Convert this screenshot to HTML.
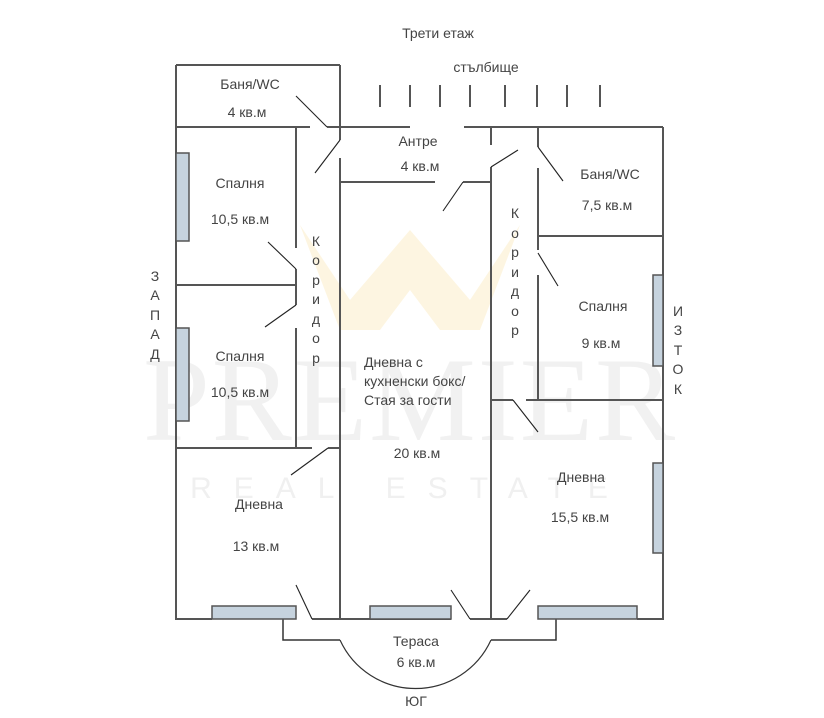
<!DOCTYPE html>
<html><head><meta charset="utf-8"><style>
html,body{margin:0;padding:0;background:#fff;}
svg{display:block;}
text{font-family:"Liberation Sans","DejaVu Sans",sans-serif;font-size:14px;fill:#444;}
</style></head><body>
<svg width="824" height="718" viewBox="0 0 824 718" xmlns="http://www.w3.org/2000/svg">
<!-- watermark -->
<polygon points="300,225 350,300 410,230 470,300 520,225 480,330 440,330 410,290 380,330 340,330" fill="#fcf3da" opacity="0.8"/>
<text x="410" y="440" text-anchor="middle" style="font-family:'Liberation Serif',serif;font-size:120px;fill:#f1f1f1;letter-spacing:2px">PREMIER</text>
<text x="410" y="498" text-anchor="middle" style="font-size:30px;fill:#f0f0f0;letter-spacing:22px">REAL ESTATE</text>

<g stroke="#555" stroke-width="2" fill="none">
<line x1="176" y1="65" x2="340" y2="65"/>
<line x1="176" y1="65" x2="176" y2="620"/>
<line x1="340" y1="65" x2="340" y2="140"/>
<line x1="176" y1="127" x2="310" y2="127"/>
<line x1="327" y1="127" x2="410" y2="127"/>
<line x1="464" y1="127" x2="663" y2="127"/>
<line x1="663" y1="127" x2="663" y2="620"/>
<line x1="176" y1="619" x2="212" y2="619"/>
<line x1="312" y1="619" x2="451" y2="619"/>
<line x1="470" y1="619" x2="507" y2="619"/>
<line x1="637" y1="619" x2="663" y2="619"/>
<line x1="340" y1="158" x2="340" y2="619"/>
<line x1="340" y1="182" x2="435" y2="182"/>
<line x1="463" y1="182" x2="491" y2="182"/>
<line x1="491" y1="127" x2="491" y2="145"/>
<line x1="491" y1="167" x2="491" y2="619"/>
<line x1="538" y1="127" x2="538" y2="147"/>
<line x1="538" y1="168" x2="538" y2="250"/>
<line x1="538" y1="236" x2="663" y2="236"/>
<line x1="538" y1="275" x2="538" y2="400"/>
<line x1="491" y1="400" x2="513" y2="400"/>
<line x1="526" y1="400" x2="663" y2="400"/>
<line x1="296" y1="127" x2="296" y2="248"/>
<line x1="296" y1="269" x2="296" y2="305"/>
<line x1="296" y1="328" x2="296" y2="448"/>
<line x1="176" y1="285" x2="296" y2="285"/>
<line x1="176" y1="448" x2="312" y2="448"/>
<line x1="328" y1="448" x2="340" y2="448"/>
<polyline points="283,619 283,640 340,640" stroke="#333" stroke-width="1.5"/>
<path d="M340 640 A83 83 0 0 0 491 640" stroke="#333" stroke-width="1.2"/>
<polyline points="491,640 556,640 556,619" stroke="#333" stroke-width="1.5"/>
<line x1="380" y1="85" x2="380" y2="107"/>
<line x1="410" y1="85" x2="410" y2="107"/>
<line x1="440" y1="85" x2="440" y2="107"/>
<line x1="470" y1="85" x2="470" y2="107"/>
<line x1="505" y1="85" x2="505" y2="107"/>
<line x1="537" y1="85" x2="537" y2="107"/>
<line x1="567" y1="85" x2="567" y2="107"/>
<line x1="600" y1="85" x2="600" y2="107"/>
</g>
<g stroke="#222" stroke-width="1.1" fill="none">
<line x1="296" y1="96" x2="327" y2="127"/>
<line x1="340" y1="140" x2="315" y2="173"/>
<line x1="463" y1="182" x2="443" y2="211"/>
<line x1="491" y1="167" x2="518" y2="150"/>
<line x1="538" y1="147" x2="563" y2="181"/>
<line x1="538" y1="253" x2="558" y2="286"/>
<line x1="513" y1="400" x2="538" y2="432"/>
<line x1="268" y1="242" x2="296" y2="269"/>
<line x1="296" y1="305" x2="265" y2="327"/>
<line x1="328" y1="448" x2="291" y2="475"/>
<line x1="296" y1="585" x2="312" y2="619"/>
<line x1="451" y1="590" x2="470" y2="619"/>
<line x1="507" y1="619" x2="530" y2="590"/>
</g>
<g fill="#c6d3de" stroke="#555" stroke-width="1.5">
<rect x="176" y="153" width="13" height="88"/>
<rect x="176" y="328" width="13" height="93"/>
<rect x="653" y="275" width="10" height="91"/>
<rect x="653" y="463" width="10" height="90"/>
<rect x="212" y="606" width="84" height="13"/>
<rect x="370" y="606" width="81" height="13"/>
<rect x="538" y="606" width="99" height="13"/>
</g>
<text x="438" y="38" text-anchor="middle">Трети етаж</text>
<text x="486" y="72" text-anchor="middle">стълбище</text>
<text x="250" y="89" text-anchor="middle">Баня/WC</text>
<text x="247" y="117" text-anchor="middle">4 кв.м</text>
<text x="418" y="146" text-anchor="middle">Антре</text>
<text x="420" y="171" text-anchor="middle">4 кв.м</text>
<text x="610" y="179" text-anchor="middle">Баня/WC</text>
<text x="607" y="210" text-anchor="middle">7,5 кв.м</text>
<text x="240" y="188" text-anchor="middle">Спалня</text>
<text x="240" y="224" text-anchor="middle">10,5 кв.м</text>
<text x="240" y="361" text-anchor="middle">Спалня</text>
<text x="240" y="397" text-anchor="middle">10,5 кв.м</text>
<text x="603" y="311" text-anchor="middle">Спалня</text>
<text x="601" y="348" text-anchor="middle">9 кв.м</text>
<text x="364" y="367">Дневна с</text>
<text x="364" y="386">кухненски бокс/</text>
<text x="364" y="405">Стая за гости</text>
<text x="417" y="458" text-anchor="middle">20 кв.м</text>
<text x="259" y="509" text-anchor="middle">Дневна</text>
<text x="256" y="551" text-anchor="middle">13 кв.м</text>
<text x="581" y="482" text-anchor="middle">Дневна</text>
<text x="580" y="522" text-anchor="middle">15,5 кв.м</text>
<text x="416" y="646" text-anchor="middle">Тераса</text>
<text x="416" y="667" text-anchor="middle">6 кв.м</text>
<text x="416" y="706" text-anchor="middle">ЮГ</text>
<g text-anchor="middle">
<text x="316" y="246">К</text><text x="316" y="265">о</text><text x="316" y="285">р</text><text x="316" y="304">и</text><text x="316" y="324">д</text><text x="316" y="343">о</text><text x="316" y="363">р</text>
<text x="515" y="218">К</text><text x="515" y="238">о</text><text x="515" y="257">р</text><text x="515" y="277">и</text><text x="515" y="296">д</text><text x="515" y="316">о</text><text x="515" y="335">р</text>
<text x="155" y="281">З</text><text x="155" y="300">А</text><text x="155" y="320">П</text><text x="155" y="339">А</text><text x="155" y="359">Д</text>
<text x="678" y="316">И</text><text x="678" y="335">З</text><text x="678" y="355">Т</text><text x="678" y="374">О</text><text x="678" y="394">К</text>
</g>
</svg>
</body></html>
